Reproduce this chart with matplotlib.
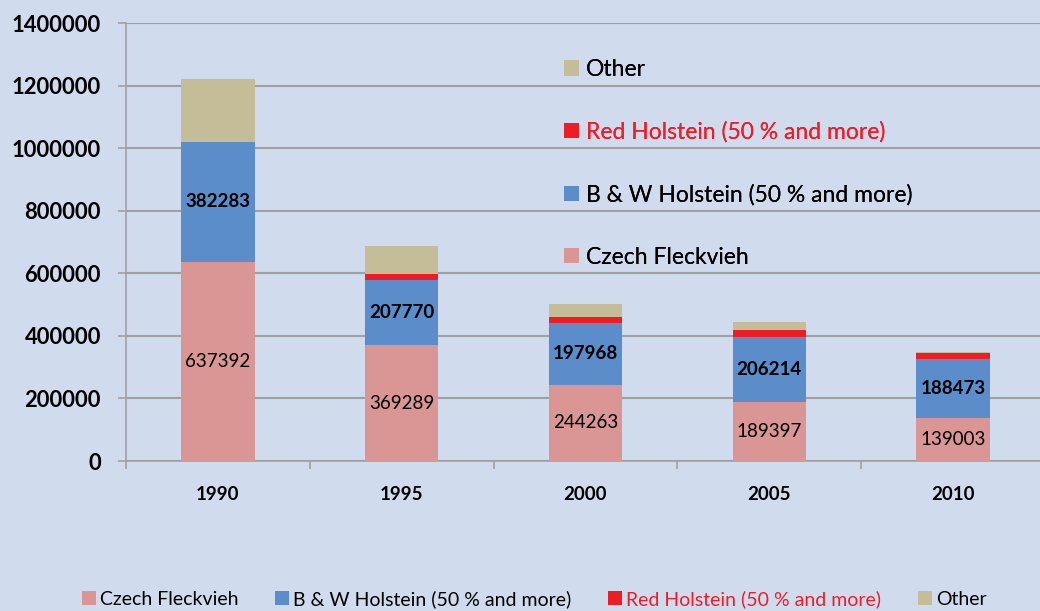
import matplotlib.pyplot as plt
import matplotlib.ticker as mticker
import numpy as np

years = ['1990', '1995', '2000', '2005', '2010']
czech = [637392, 369289, 244263, 189397, 139003]
bw = [382283, 207770, 197968, 206214, 188473]
red = [0, 19600, 19000, 23000, 16700]
other = [201000, 90300, 40600, 25500, 5000]

names = ['Czech Fleckvieh', 'B & W Holstein (50 % and more)',
         'Red Holstein (50 % and more)', 'Other']
colors = ['#DA9694', '#5A8DCA', '#EE1C25', '#C4BD97']
bg = '#D0DCEE'

plt.rcParams['font.family'] = ['Lato', 'DejaVu Sans']

fig = plt.figure(figsize=(10.4, 6.11), dpi=100, facecolor=bg)
ax = fig.add_axes([126/1040, 150/611, 919/1040, 438/611], facecolor=bg)

x = np.arange(len(years))
w = 0.4
series = [czech, bw, red, other]
bottom = np.zeros(len(years))
for vals, c, n in zip(series, colors, names):
    ax.bar(x, vals, w, bottom=bottom, color=c, label=n, zorder=3)
    bottom += np.array(vals)

# value labels
for i in range(len(years)):
    ax.text(x[i], czech[i] / 2, str(czech[i]), ha='center', va='center',
            fontsize=13.5, color='black', zorder=4)
    ax.text(x[i], czech[i] + bw[i] / 2, str(bw[i]), ha='center', va='center',
            fontsize=13.5, fontweight='bold', color='black', zorder=4)

ax.set_xlim(-0.5, 4.5)
ax.set_ylim(0, 1400000)
ax.set_yticks(np.arange(0, 1400001, 200000))
ax.yaxis.set_major_formatter(mticker.FuncFormatter(lambda v, p: '%d' % v))
ax.yaxis.grid(True, color='#A0A0A0', linewidth=1.5, zorder=0)
ax.set_xticks(x)
ax.set_xticklabels(years)
ax.set_xticks(np.arange(-0.5, 4.6, 1), minor=True)
ax.tick_params(axis='x', which='major', length=0, pad=18, labelsize=13.5)
ax.tick_params(axis='x', which='minor', length=6, color='#A0A0A0', width=1.2)
ax.tick_params(axis='y', length=6, color='#A0A0A0', width=1.2, pad=12, labelsize=15.8)
for lab in ax.get_xticklabels() + ax.get_yticklabels():
    lab.set_fontweight('bold')

for s in ['top', 'right']:
    ax.spines[s].set_visible(False)
for s in ['left', 'bottom']:
    ax.spines[s].set_color('#A0A0A0')
    ax.spines[s].set_linewidth(1.2)

# inner legend (reversed order)
h, l = ax.get_legend_handles_labels()
leg = ax.legend(h[::-1], l[::-1], loc='upper left', bbox_to_anchor=(438/919, 1 - 36/438),
                frameon=False, fontsize=16.5, labelspacing=1.8, handlelength=0.65,
                handleheight=0.65, handletextpad=0.3, borderpad=0, borderaxespad=0)
for t in leg.get_texts():
    if t.get_text().startswith('Red'):
        t.set_color('#EE1C25')

# bottom legend
leg2 = fig.legend(h, l, loc='center', bbox_to_anchor=(534/1040, 1 - 599/611), ncol=4,
                  frameon=False, fontsize=14, handlelength=0.72, handleheight=0.72,
                  handletextpad=0.2, columnspacing=1.9, borderpad=0)
for t in leg2.get_texts():
    if t.get_text().startswith('Red'):
        t.set_color('#EE1C25')
ax.add_artist(leg)

fig.savefig('out.png', dpi=100, facecolor=bg)
